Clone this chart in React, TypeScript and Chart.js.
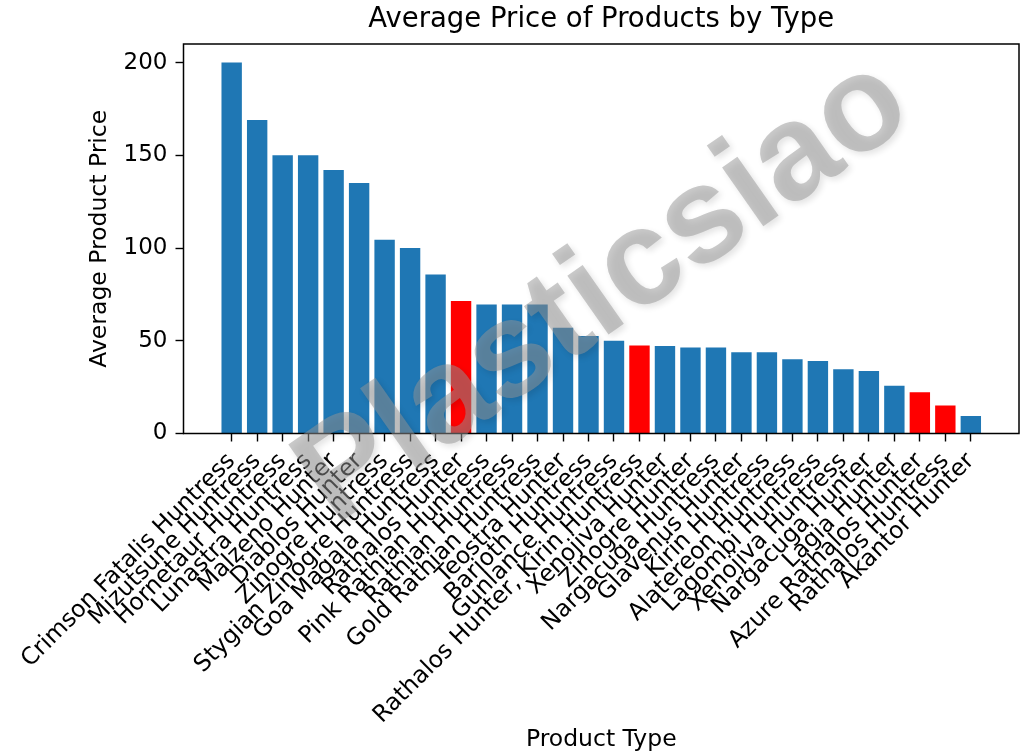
import { useEffect, useRef } from "react";
import { Chart, registerables } from "chart.js";

Chart.register(...registerables);

const productTypes: string[] = [
  "Crimson Fatalis Huntress",
  "Mizutsune Huntress",
  "Hornetaur Huntress",
  "Lunastra Huntress",
  "Malzeno Hunter",
  "Diablos Hunter",
  "Zinogre Huntress",
  "Stygian Zinogre Huntress",
  "Goa Magala Huntress",
  "Rathalos Hunter",
  "Pink Rathian Huntress",
  "Rathian Huntress",
  "Gold Rathian Huntress",
  "Teostra Hunter",
  "Barioth Huntress",
  "Gunlance Huntress",
  "Rathalos Hunter, Kirin Huntress",
  "Xenojiva Hunter",
  "Zinogre Hunter",
  "Nargacuga Huntress",
  "Glavenus Hunter",
  "Kirin Huntress",
  "Alatereon Huntress",
  "Lagombi Huntress",
  "Xenojiva Huntress",
  "Nargacuga Hunter",
  "Lagia Hunter",
  "Azure Rathalos Hunter",
  "Rathalos Huntress",
  "Akantor Hunter",
];

const averagePrices: number[] = [
  200, 169, 150, 150, 142, 135, 104.5, 100, 85.7, 71.5, 69.5, 69.5, 69.5, 57,
  52.6, 50, 47.4, 47.2, 46.3, 46.3, 43.8, 43.8, 40, 39.1, 34.6, 33.7, 25.7,
  22.3, 15.1, 9.5,
];

const highlightKeyword = "Rathalos";
const yTickValues: number[] = [0, 50, 100, 150, 200];

const FONT = "'DejaVu Sans', sans-serif";

export default function App() {
  const ref = useRef<HTMLCanvasElement>(null);

  useEffect(() => {
    document.body.style.margin = "0";
    const canvas = ref.current;
    if (!canvas) return;

    const boxPlugin = {
      id: "axesBox",
      afterDatasetsDraw(chart: any) {
        const { ctx, chartArea } = chart;
        ctx.save();
        ctx.strokeStyle = "#000";
        ctx.lineWidth = 1.5;
        ctx.strokeRect(
          chartArea.left,
          chartArea.top,
          chartArea.right - chartArea.left,
          chartArea.bottom - chartArea.top
        );
        ctx.restore();
      },
    };

    const watermarkPlugin = {
      id: "watermark",
      afterDraw(chart: any) {
        const { ctx } = chart;
        ctx.save();
        ctx.translate(604, 292);
        ctx.rotate((-35 * Math.PI) / 180);
        ctx.font = "bold 136px 'Liberation Sans', sans-serif";
        ctx.textAlign = "center";
        ctx.textBaseline = "middle";
        ctx.shadowColor = "rgba(0,0,0,0.22)";
        ctx.shadowBlur = 6;
        ctx.shadowOffsetX = 3;
        ctx.shadowOffsetY = 3;
        ctx.fillStyle = "rgba(150,150,150,0.5)";
        ctx.fillText("Plasticsiao", 0, 0);
        ctx.restore();
      },
    };

    const tickGrid = {
      display: true,
      drawOnChartArea: false,
      drawTicks: true,
      tickLength: 8,
      tickWidth: 1.4,
      tickColor: "#000",
      offset: false,
    };

    const chart = new Chart(canvas, {
      type: "bar",
      data: {
        datasets: [
          {
            data: averagePrices.map((v, i) => ({ x: i, y: v })),
            backgroundColor: productTypes.map((t) =>
              t.includes(highlightKeyword) ? "#ff0000" : "#1f77b4"
            ),
            borderWidth: 0,
            barPercentage: 0.8,
            categoryPercentage: 1,
          },
        ],
      },
      options: {
        responsive: false,
        animation: false,
        layout: { padding: { top: 0, right: 2, bottom: 0, left: 0 } },
        plugins: {
          legend: { display: false },
          tooltip: { enabled: false },
          title: {
            display: true,
            text: "Average Price of Products by Type",
            color: "#000",
            font: { family: FONT, size: 27.5, weight: "normal" },
            padding: { top: 3.5, bottom: 7.5 },
            fullSize: false,
          },
        },
        scales: {
          x: {
            type: "linear",
            min: -1.89,
            max: 30.89,
            offset: false,
            grid: tickGrid,
            border: { display: false },
            afterBuildTicks: (s: any) => {
              s.ticks = productTypes.map((_, i) => ({ value: i }));
            },
            afterFit: (s: any) => {
              s.height = 320.5;
            },
            ticks: {
              autoSkip: false,
              minRotation: 45,
              maxRotation: 45,
              padding: 6,
              color: "#000",
              font: { family: FONT, size: 23.5 },
              callback: (value: any) =>
                productTypes[Math.round(Number(value))] ?? "",
            },
            title: {
              display: true,
              text: "Product Type",
              color: "#000",
              font: { family: FONT, size: 23.5 },
              padding: { top: 0, bottom: 0 },
            },
          },
          y: {
            type: "linear",
            min: 0,
            max: 210,
            grid: tickGrid,
            border: { display: false },
            afterBuildTicks: (s: any) => {
              s.ticks = yTickValues.map((v) => ({ value: v }));
            },
            afterFit: (s: any) => {
              s.width = 183.5;
            },
            ticks: {
              padding: 8,
              color: "#000",
              font: { family: FONT, size: 23 },
            },
            title: {
              display: true,
              text: "Average Product Price",
              color: "#000",
              font: { family: FONT, size: 23.5 },
              padding: { top: 86, bottom: 0 },
            },
          },
        },
      },
      plugins: [boxPlugin, watermarkPlugin],
    } as any);

    return () => {
      chart.destroy();
    };
  }, []);

  return (
    <div style={{ width: 1021, height: 754 }}>
      <canvas ref={ref} width={1021} height={754} />
    </div>
  );
}
